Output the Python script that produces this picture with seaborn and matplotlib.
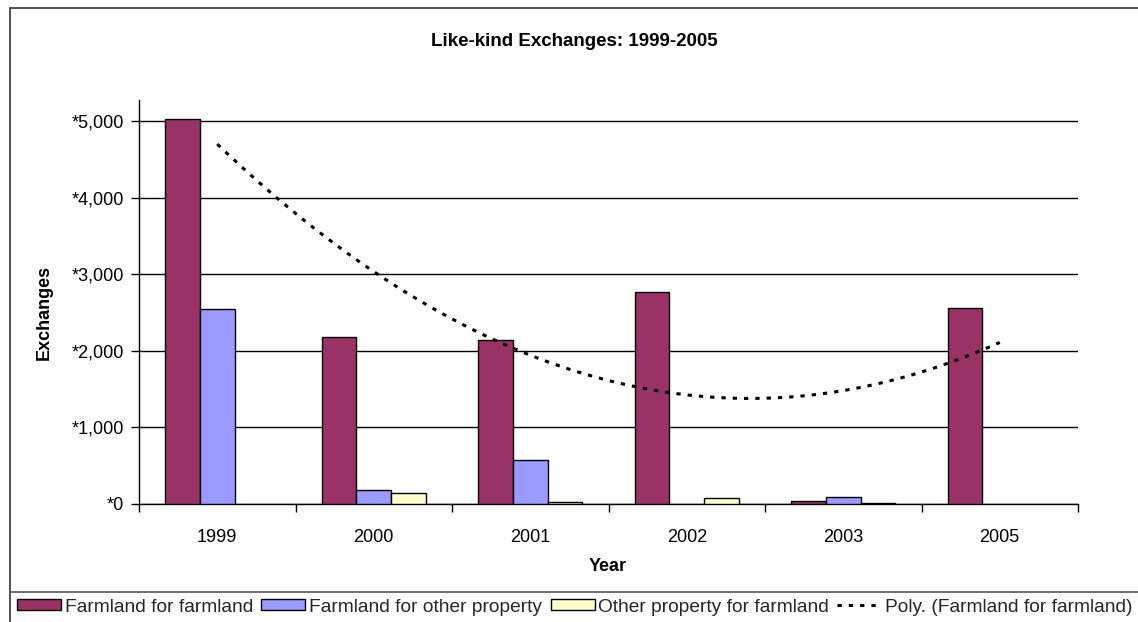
import matplotlib
matplotlib.use("Agg")
import matplotlib.pyplot as plt
import seaborn as sns
import numpy as np
import pandas as pd
from matplotlib.patches import Patch, Rectangle
from matplotlib.lines import Line2D
from matplotlib.ticker import FuncFormatter, FixedLocator

years = ["1999", "2000", "2001", "2002", "2003", "2005"]
farm_for_farm = [5020, 2177, 2138, 2764, 35, 2555]
farm_for_other = [2540, 180, 574, np.nan, 95, np.nan]
other_for_farm = [np.nan, 139, 20, 78, 17, np.nan]
series_names = ["Farmland for farmland", "Farmland for other property", "Other property for farmland"]
colors = ["#993366", "#9999FF", "#FFFFCC"]
trend_label = "Poly. (Farmland for farmland)"
title = "Like-kind Exchanges: 1999-2005"
yticks = [0, 1000, 2000, 3000, 4000, 5000]

df = pd.DataFrame({
    "Year": years * 3,
    "Exchanges": farm_for_farm + farm_for_other + other_for_farm,
    "Type": [series_names[0]] * 6 + [series_names[1]] * 6 + [series_names[2]] * 6,
})

sns.set_theme(style="white")
plt.rcParams["font.family"] = ["Liberation Sans", "DejaVu Sans"]

W, H = 1138, 622
fig = plt.figure(figsize=(W / 100, H / 100), dpi=100)
ax_left, ax_right, ax_bottom, ax_top = 139, 1078, 504, 100
ax = fig.add_axes([ax_left / W, 1 - ax_bottom / H, (ax_right - ax_left) / W, (ax_bottom - ax_top) / H])

sns.barplot(data=df, x="Year", y="Exchanges", hue="Type", hue_order=series_names,
            palette=colors, saturation=1, edgecolor="black", linewidth=1.0,
            width=0.667, gap=0, ax=ax, legend=False, errorbar=None, zorder=3)

# polynomial (order 2) trendline of farmland-for-farmland
xs = np.arange(len(years))
coef = np.polyfit(xs, farm_for_farm, 2)
xf = np.linspace(0, len(years) - 1, 200)
ls = (0, (1.4, 2.3))
ax.plot(xf, np.polyval(coef, xf), color="black", lw=2.2, linestyle=ls, zorder=4,
        dash_capstyle="butt")

ymax = 5000 * (ax_bottom - ax_top) / (ax_bottom - 121)
ax.set_ylim(0, ymax)
ax.set_xlim(-0.5, len(years) - 0.5)
ax.yaxis.set_major_locator(FixedLocator(yticks))
ax.yaxis.set_major_formatter(FuncFormatter(lambda v, p: "*{:,}".format(int(v))))
ax.grid(axis="y", color="black", lw=1.0, zorder=0)
ax.set_axisbelow(True)

# category-boundary ticks on x
ax.set_xticks(np.arange(-0.5, len(years), 1.0))
ax.set_xticklabels([])
ax.set_xticks(xs, minor=True)
ax.set_xticklabels(years, minor=True)
ax.tick_params(axis="x", which="major", direction="out", length=6, width=1, color="black", bottom=True)
ax.tick_params(axis="x", which="minor", length=0, labelsize=13, pad=18, labelcolor="black")
ax.tick_params(axis="y", direction="out", length=6, width=1, color="black", left=True,
               labelsize=13, labelcolor="black", pad=5)

for s in ["top", "right"]:
    ax.spines[s].set_visible(False)
for s in ["left", "bottom"]:
    ax.spines[s].set_color("black")
    ax.spines[s].set_linewidth(1.0)

ax.set_xlabel("Year", fontsize=13, fontweight="bold", color="black")
ax.set_ylabel("Exchanges", fontsize=13, fontweight="bold", color="black")
ax.xaxis.set_label_coords((608 - ax_left) / (ax_right - ax_left), -(558 - ax_bottom) / (ax_bottom - ax_top))
ax.yaxis.set_label_coords(-(ax_left - 53) / (ax_right - ax_left), (ax_bottom - 312) / (ax_bottom - ax_top))

fig.text(574 / W, 1 - 41 / H, title, ha="center", va="center", fontsize=13.5,
         fontweight="bold", color="black")

# outer frame and legend separator
fig.add_artist(Rectangle((10 / W, -0.05), 1.1, 1 - 8 / H + 0.05, transform=fig.transFigure,
                         fill=False, edgecolor="#333333", lw=1.2))
fig.add_artist(Line2D([10 / W, 1.0], [1 - 592 / H] * 2, transform=fig.transFigure, color="#555555", lw=1.2))

handles = [Patch(facecolor=c, edgecolor="black", lw=1.0) for c in colors]
handles.append(Line2D([0], [0], color="black", lw=2.2, linestyle=ls))
labels = series_names + [trend_label]
fig.legend(handles, labels, loc="center left", bbox_to_anchor=(17 / W, 1 - 607 / H), ncol=4,
           frameon=False, fontsize=13.8, handlelength=2.3, handleheight=0.55, handletextpad=0.18,
           columnspacing=0.45, borderaxespad=0, borderpad=0)

fig.savefig("out.png", dpi=100, facecolor="white")
